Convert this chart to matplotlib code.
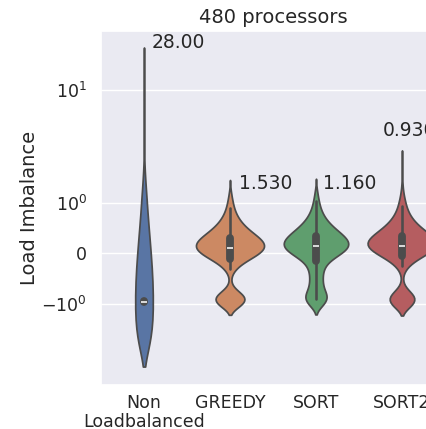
import matplotlib
matplotlib.use("Agg")

import matplotlib.pyplot as plt
import numpy as np
import pandas as pd
import seaborn as sns

STRATEGIES = ["Non\nLoadbalanced", "GREEDY", "SORT", "SORT2"]

# Per-processor load imbalance, binned: bin value and number of the 480
# processors that fall into it.
NONLB_VALUES = [-0.98, -0.96, -0.94, -0.92, -0.90, 2.0, 5.0, 10.0, 15.0, 20.0, 21.0]
NONLB_COUNTS = [100, 150, 120, 62, 16, 2, 3, 4, 5, 10, 8]

GREEDY_VALUES = [-0.95, -0.90, -0.85, -0.3, -0.2, -0.1, 0.0, 0.1, 0.2, 0.3, 0.4,
                 0.5, 0.6, 0.7, 0.8, 0.9, 1.0, 1.1, 1.2, 1.3]
GREEDY_COUNTS = [30, 38, 19, 8, 14, 28, 55, 62, 62, 50, 35,
                 25, 18, 12, 8, 6, 4, 3, 2, 1]

SORT_VALUES = [-0.95, -0.90, -0.85, -0.75, -0.65, -0.55, -0.45, -0.35, -0.25, -0.15,
               -0.05, 0.05, 0.15, 0.25, 0.35, 0.45, 0.55, 0.65, 0.75, 0.85, 0.95,
               1.05, 1.15, 1.25, 1.35]
SORT_COUNTS = [17, 21, 14, 9, 11, 10, 10, 10, 12, 16,
               28, 55, 58, 56, 46, 33, 24, 16, 11, 8, 5,
               4, 3, 2, 1]

SORT2_VALUES = [-0.95, -0.90, -0.85, -0.25, -0.15, -0.05, 0.05, 0.15, 0.25, 0.35,
                0.45, 0.55, 0.65, 0.75, 0.85, 0.95, 1.05, 1.15, 1.25, 1.45, 1.8,
                2.2, 2.6]
SORT2_COUNTS = [27, 35, 16, 8, 14, 28, 56, 67, 63, 48,
                34, 24, 17, 11, 8, 6, 4, 3, 2, 2, 1,
                1, 1]

LABELS = ["28.00", "1.530", "1.160", "0.930"]
LABEL_X = [0.09, 1.10, 2.08, 2.78]
LABEL_Y = [26.0, 1.48, 1.48, 4.4]

sns.set_theme(style="darkgrid")

frames = []
for name, values, counts in zip(
    STRATEGIES,
    [NONLB_VALUES, GREEDY_VALUES, SORT_VALUES, SORT2_VALUES],
    [NONLB_COUNTS, GREEDY_COUNTS, SORT_COUNTS, SORT2_COUNTS],
):
    frames.append(pd.DataFrame({"strategy": name, "imbalance": np.repeat(values, counts)}))
df = pd.concat(frames, ignore_index=True)

fig = plt.figure(figsize=(4.26, 4.29), dpi=100)
ax = fig.add_axes([101 / 426, 44 / 429, 344 / 426, 354 / 429])

sns.violinplot(data=df, x="strategy", y="imbalance", hue="strategy",
               palette="deep", legend=False, common_norm=True, ax=ax)
ax.set_yscale("symlog", linthresh=1, linscale=0.4)
ax.set_ylim(-5.2, 33)
ax.set_xlim(-0.5, 3.5)

for text, x, y in zip(LABELS, LABEL_X, LABEL_Y):
    ax.text(x, y, text, fontsize=13.5, va="center", ha="left", color="#262626")

ax.set_title("480 processors", fontsize=14)
ax.set_xlabel("")
ax.set_ylabel("Load Imbalance", fontsize=14, labelpad=2)
ax.tick_params(axis="both", labelsize=12.5)
ax.tick_params(axis="y", pad=4)
ax.tick_params(axis="x", pad=0.5)
for label in ax.get_xticklabels():
    label.set_linespacing(1.1)

fig.savefig("out.png", dpi=100)
